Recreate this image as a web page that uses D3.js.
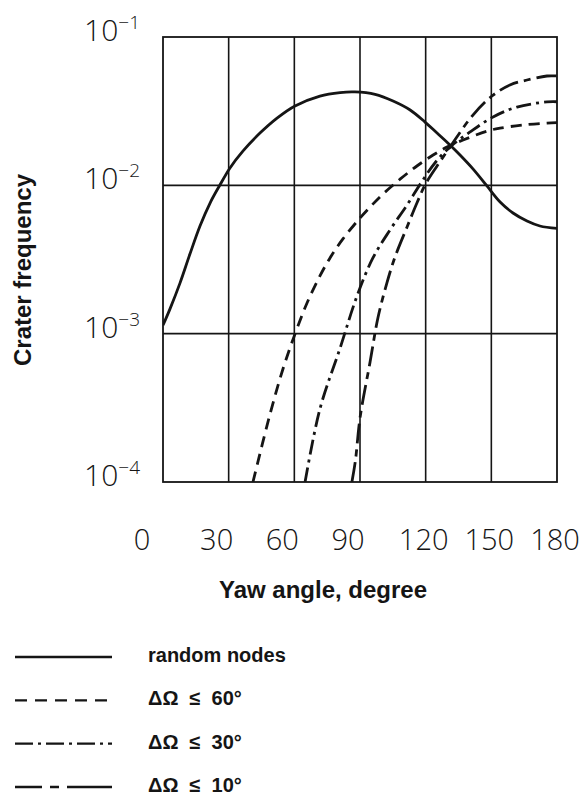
<!DOCTYPE html>
<html>
<head>
<meta charset="utf-8">
<script src="https://cdn.jsdelivr.net/npm/d3@7"></script>
<style>
	body { margin: 0; background: #fff; }
	svg { display: block; }
</style>
</head>
<body>
<div id="chart"></div>
<script>
// Значения
const xTicks = [0, 30, 60, 90, 120, 150, 180]
const yTicks = [1e-4, 1e-3, 1e-2, 1e-1]
const yTickExp = ["−4", "−3", "−2", "−1"]

const randomAngle = [0, 3.2, 7.8, 12.3, 16.9, 21.5, 26, 30.6, 36.5, 44.3, 52.1, 60.3, 71.7, 80.9, 87.7, 96.9, 105.1, 112.9, 119.7, 125.2, 131.1, 135.7, 141.6, 148, 154, 159.9, 166.3, 172.2, 180]
const randomFreq = [0.00114, 0.00147, 0.00220, 0.00344, 0.00532, 0.00760, 0.01005, 0.0131, 0.0170, 0.0225, 0.0284, 0.0343, 0.0400, 0.0422, 0.0426, 0.0410, 0.0370, 0.0322, 0.0267, 0.0225, 0.0187, 0.0160, 0.0129, 0.0099, 0.00772, 0.00651, 0.00575, 0.00532, 0.00512]

const dOmega60Angle = [41.1, 48.9, 54.8, 60.3, 65.8, 71.7, 76.3, 82.2, 90, 95.5, 100.5, 108.3, 116, 123.4, 129.7, 137.1, 148, 154, 164.5, 175.4, 180]
const dOmega60Freq = [1e-4, 2.87e-4, 5.78e-4, 9.95e-4, 1.61e-3, 2.45e-3, 3.24e-3, 4.35e-3, 6.02e-3, 7.37e-3, 8.74e-3, 0.0110, 0.0135, 0.0160, 0.0181, 0.0202, 0.0232, 0.0243, 0.0255, 0.0263, 0.0265]

const dOmega30Angle = [64.9, 71.7, 80.9, 88.6, 95.9, 103.7, 111.5, 117.9, 124.3, 131.1, 140.3, 150.8, 161.7, 175.4, 180]
const dOmega30Freq = [1e-4, 3.11e-4, 7.99e-4, 1.79e-3, 3.24e-3, 5.0e-3, 7.37e-3, 0.0104, 0.0142, 0.0181, 0.0229, 0.0289, 0.0337, 0.0365, 0.0366]

const dOmega10Angle = [86.3, 87.9, 90, 94.6, 98.2, 102.3, 106, 111.5, 116, 119.7, 125.2, 131.1, 141.2, 150.3, 158.5, 166.3, 175.4, 180]
const dOmega10Freq = [1e-4, 1.39e-4, 2.70e-4, 6.44e-4, 1.28e-3, 2.20e-3, 3.29e-3, 5.24e-3, 7.60e-3, 0.01005, 0.0135, 0.0181, 0.0293, 0.0400, 0.0475, 0.0513, 0.0546, 0.0546]

const seriesNames = ["random nodes", "ΔΩ  ≤  60°", "ΔΩ  ≤  30°", "ΔΩ  ≤  10°"]

const series = [
	{ name: seriesNames[0], angle: randomAngle, freq: randomFreq, dash: null, legendDash: null },
	{ name: seriesNames[1], angle: dOmega60Angle, freq: dOmega60Freq, dash: "11,7", legendDash: "12,8" },
	{ name: seriesNames[2], angle: dOmega30Angle, freq: dOmega30Freq, dash: "15,5,3,5", legendDash: "18,5,3,5" },
	{ name: seriesNames[3], angle: dOmega10Angle, freq: dOmega10Freq, dash: "20,6,7,6", legendDash: "27,8,9,8,45" }
]

const width = 583
const height = 795
const plot = { left: 163, right: 557, top: 37, bottom: 482 }

const svg = d3.select("#chart")
	.append("svg")
	.attr("width", width)
	.attr("height", height)

const x = d3.scaleLinear().domain([0, 180]).range([plot.left, plot.right])
const y = d3.scaleLog().domain([1e-4, 1e-1]).range([plot.bottom, plot.top])

const ink = "#151515"
const thinFont = "'Open Sans', 'Liberation Sans', sans-serif"
const boldFont = "'Liberation Sans', Arial, sans-serif"

// Сетка
svg.append("g")
	.selectAll("line")
	.data(xTicks.slice(1, -1))
	.enter().append("line")
	.attr("x1", d => x(d)).attr("x2", d => x(d))
	.attr("y1", plot.top).attr("y2", plot.bottom)
	.style("stroke", ink).style("stroke-width", 1.6)

svg.append("g")
	.selectAll("line")
	.data(yTicks.slice(1, -1))
	.enter().append("line")
	.attr("x1", plot.left).attr("x2", plot.right)
	.attr("y1", d => y(d)).attr("y2", d => y(d))
	.style("stroke", ink).style("stroke-width", 1.6)

svg.append("rect")
	.attr("x", plot.left).attr("y", plot.top)
	.attr("width", plot.right - plot.left)
	.attr("height", plot.bottom - plot.top)
	.style("fill", "none").style("stroke", ink).style("stroke-width", 1.8)

// Подписи по осям
svg.append("g")
	.selectAll("text")
	.data(xTicks)
	.enter().append("text")
	.attr("x", d => x(d) + (d === 0 ? -21 : d < 120 ? -12 : -2))
	.attr("y", 550)
	.style("text-anchor", "middle")
	.style("font-family", thinFont)
	.style("font-weight", 300)
	.style("font-size", "29px")
	.style("fill", ink)
	.text(d => d)

const yLab = svg.append("g")
	.selectAll("text")
	.data(yTicks)
	.enter().append("text")
	.attr("x", plot.left - 23)
	.attr("y", d => y(d) + 4)
	.style("text-anchor", "end")
	.style("font-family", thinFont)
	.style("font-weight", 300)
	.style("font-size", "30px")
	.style("fill", ink)

yLab.append("tspan").text("10")
yLab.append("tspan")
	.attr("dy", -12)
	.style("font-size", "19px")
	.text((d, i) => yTickExp[i])

svg.append("text")
	.attr("transform", "translate(31,270) rotate(-90)")
	.style("text-anchor", "middle")
	.style("font-family", boldFont)
	.style("font-weight", "bold")
	.style("font-size", "24px")
	.style("fill", ink)
	.text("Crater frequency")

svg.append("text")
	.attr("x", 323)
	.attr("y", 598)
	.style("text-anchor", "middle")
	.style("font-family", boldFont)
	.style("font-weight", "bold")
	.style("font-size", "24px")
	.style("fill", ink)
	.text("Yaw angle, degree")

// Кривые
const line = d3.line()
	.x(d => x(d[0]))
	.y(d => y(d[1]))
	.curve(d3.curveCatmullRom.alpha(0.5))

svg.append("defs").append("clipPath")
	.attr("id", "plot-clip")
	.append("rect")
	.attr("x", plot.left).attr("y", plot.top - 2)
	.attr("width", plot.right - plot.left).attr("height", plot.bottom - plot.top + 2)

svg.append("g")
	.attr("clip-path", "url(#plot-clip)")
	.selectAll("path")
	.data(series)
	.enter().append("path")
	.attr("d", s => line(d3.zip(s.angle, s.freq)))
	.style("fill", "none")
	.style("stroke", ink)
	.style("stroke-width", 2.8)
	.style("stroke-dasharray", s => s.dash)

// Легенда
const legendY = d3.scalePoint().domain(seriesNames).range([657, 787])

const legend = svg.append("g")
	.selectAll("g")
	.data(series)
	.enter().append("g")
	.attr("transform", s => `translate(0,${legendY(s.name)})`)

legend.append("line")
	.attr("x1", 15).attr("x2", 112)
	.style("stroke", ink)
	.style("stroke-width", 2.4)
	.style("stroke-dasharray", s => s.legendDash)

legend.append("text")
	.attr("x", 148)
	.attr("y", 5)
	.style("font-family", boldFont)
	.style("font-weight", "bold")
	.style("font-size", "20px")
	.style("white-space", "pre")
	.style("fill", ink)
	.text(s => s.name)
</script>
</body>
</html>
